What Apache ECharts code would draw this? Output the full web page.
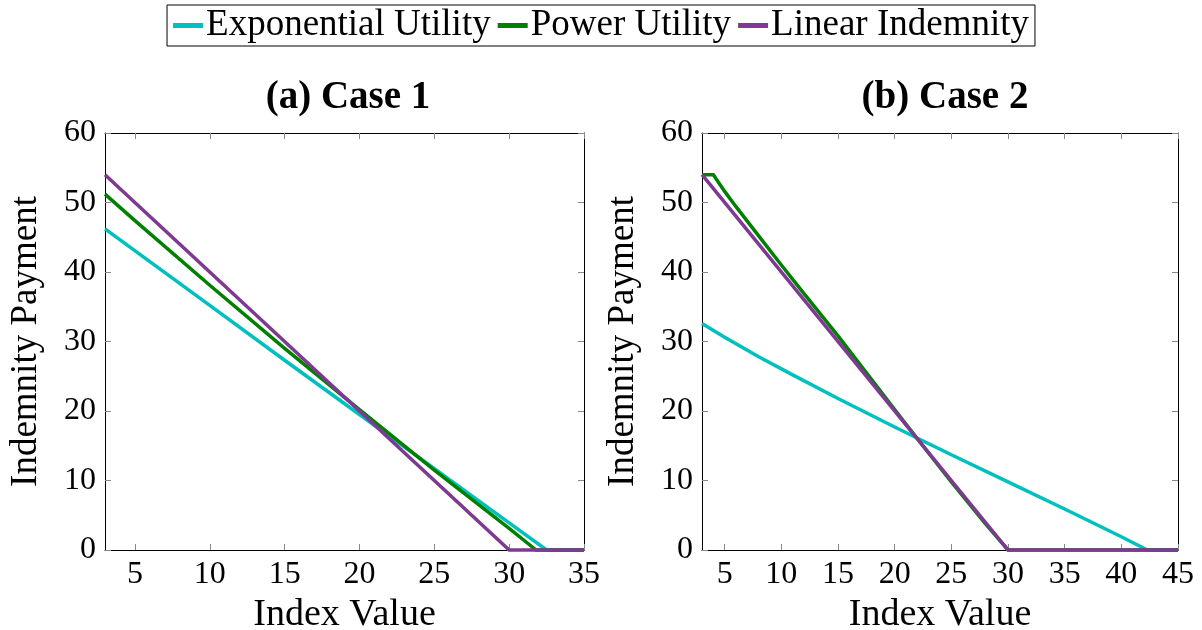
<!DOCTYPE html>
<html>
<head>
<meta charset="utf-8">
<script src="https://cdn.jsdelivr.net/npm/echarts@6/dist/echarts.min.js"></script>
<style>
  html, body { margin: 0; padding: 0; background: #ffffff; }
  #chart { width: 1202px; height: 630px; }
</style>
</head>
<body>
<div id="chart"></div>
<script>
// Series names and panel titles
const seriesNames = ['Exponential Utility', 'Power Utility', 'Linear Indemnity'];
const panelTitles = ['(a) Case 1', '(b) Case 2'];

// Tick labels
const xTicksCase1 = [5, 10, 15, 20, 25, 30, 35];
const xTicksCase2 = [5, 10, 15, 20, 25, 30, 35, 40, 45];
const yTicks = [0, 10, 20, 30, 40, 50, 60];

// Case 1: [index value, indemnity payment]
const case1Exponential = [[3, 46.2], [10, 35.2], [15, 27.3], [20, 19.5], [25, 11.7], [30, 3.9], [32.5, 0], [35, 0]];
const case1Power = [[3, 51.2], [5, 47.4], [10, 38.1], [15, 29.0], [20, 20.2], [25, 11.5], [30, 3.1], [31.8, 0], [35, 0]];
const case1Linear = [[3, 54], [30, 0], [35, 0]];

// Case 2: [index value, indemnity payment]
const case2Exponential = [[3, 32.6], [5, 30.6], [8, 27.8], [11, 25.2], [15, 21.8], [20, 17.7], [25, 13.7], [30, 9.8], [35, 5.9], [40, 1.9], [42.3, 0], [45, 0]];
const case2Power = [[3, 54], [4, 54], [5, 51.6], [6, 49.4], [8, 45.2], [10, 41.0], [12, 36.9], [15, 30.8], [20, 20.2], [22, 16.0], [25, 9.8], [28, 3.8], [30, 0], [45, 0]];
const case2Linear = [[3, 54], [30, 0], [45, 0]];

const colors = ['#00bfbf', '#008000', '#7e3a92'];
const FONT = '"Liberation Serif", "DejaVu Serif", serif';

const grids = [
  { left: 105, top: 133, width: 479, height: 417, outerBoundsMode: 'none', containLabel: false },
  { left: 702, top: 133, width: 476, height: 417, outerBoundsMode: 'none', containLabel: false }
];

function bottomAxis(gridIndex, maxVal, ticks) {
  return {
    type: 'value', gridIndex: gridIndex, position: 'bottom',
    min: 3, max: maxVal,
    name: 'Index Value', nameLocation: 'middle', nameGap: 44,
    nameTextStyle: { fontFamily: FONT, fontSize: 38, color: '#000' },
    axisLine: { show: true, onZero: false, lineStyle: { color: '#000', width: 1 } },
    axisTick: { show: true, inside: true, length: 6, lineStyle: { color: '#888', width: 1 }, customValues: ticks },
    axisLabel: { fontFamily: FONT, fontSize: 32, color: '#000', margin: 9, customValues: ticks },
    splitLine: { show: false }
  };
}
function topAxis(gridIndex, maxVal, ticks) {
  return {
    type: 'value', gridIndex: gridIndex, position: 'top',
    min: 3, max: maxVal,
    axisLine: { show: true, onZero: false, lineStyle: { color: '#000', width: 1 } },
    axisTick: { show: true, inside: true, length: 6, lineStyle: { color: '#888', width: 1 }, customValues: ticks },
    axisLabel: { show: false },
    splitLine: { show: false }
  };
}
function leftAxis(gridIndex) {
  return {
    type: 'value', gridIndex: gridIndex, position: 'left',
    min: 0, max: 60, interval: 10,
    name: 'Indemnity Payment', nameLocation: 'middle', nameGap: 60,
    nameTextStyle: { fontFamily: FONT, fontSize: 37, color: '#000' },
    axisLine: { show: true, onZero: false, lineStyle: { color: '#000', width: 1 } },
    axisTick: { show: true, inside: true, length: 6, lineStyle: { color: '#888', width: 1 } },
    axisLabel: { fontFamily: FONT, fontSize: 32, color: '#000', margin: 9 },
    splitLine: { show: false }
  };
}
function rightAxis(gridIndex) {
  return {
    type: 'value', gridIndex: gridIndex, position: 'right',
    min: 0, max: 60, interval: 10,
    axisLine: { show: true, onZero: false, lineStyle: { color: '#000', width: 1 } },
    axisTick: { show: true, inside: true, length: 6, lineStyle: { color: '#888', width: 1 } },
    axisLabel: { show: false },
    splitLine: { show: false }
  };
}

function lineSeries(name, data, xi, yi, color) {
  return {
    type: 'line', name: name, data: data,
    xAxisIndex: xi, yAxisIndex: yi,
    showSymbol: false, symbol: 'none', clip: false,
    lineStyle: { color: color, width: 3.5, join: 'miter' },
    itemStyle: { color: color },
    animation: false
  };
}

const chart = echarts.init(document.getElementById('chart'), null, { renderer: 'canvas' });
chart.setOption({
  backgroundColor: '#ffffff',
  animation: false,
  textStyle: { fontFamily: FONT },
  color: colors,
  legend: {
    data: seriesNames,
    left: 'center', top: 5,
    icon: 'rect', itemWidth: 30, itemHeight: 5, itemGap: 7,
    padding: [2, 6, 2, 6],
    borderColor: '#000', borderWidth: 1,
    textStyle: { fontFamily: FONT, fontSize: 37, color: '#000', padding: [0, 0, 0, -2] }
  },
  title: [
    { text: panelTitles[0], left: 343, top: 73, textAlign: 'center',
      textStyle: { fontFamily: FONT, fontSize: 39, fontWeight: 'bold', color: '#000' } },
    { text: panelTitles[1], left: 940, top: 73, textAlign: 'center',
      textStyle: { fontFamily: FONT, fontSize: 39, fontWeight: 'bold', color: '#000' } }
  ],
  grid: grids,
  xAxis: [
    bottomAxis(0, 35, xTicksCase1),
    bottomAxis(1, 45, xTicksCase2),
    topAxis(0, 35, xTicksCase1),
    topAxis(1, 45, xTicksCase2)
  ],
  yAxis: [leftAxis(0), leftAxis(1), rightAxis(0), rightAxis(1)],
  series: [
    lineSeries(seriesNames[0], case1Exponential, 0, 0, colors[0]),
    lineSeries(seriesNames[1], case1Power, 0, 0, colors[1]),
    lineSeries(seriesNames[2], case1Linear, 0, 0, colors[2]),
    lineSeries(seriesNames[0], case2Exponential, 1, 1, colors[0]),
    lineSeries(seriesNames[1], case2Power, 1, 1, colors[1]),
    lineSeries(seriesNames[2], case2Linear, 1, 1, colors[2])
  ]
});
</script>
</body>
</html>
